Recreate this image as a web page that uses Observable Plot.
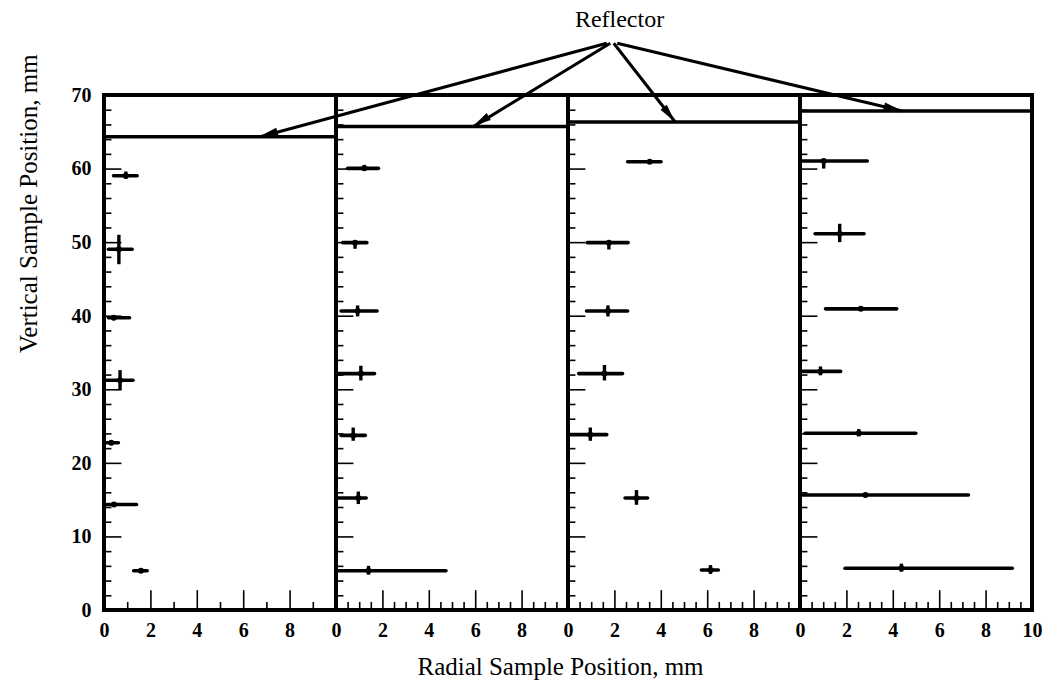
<!DOCTYPE html>
<html>
<head>
<meta charset="utf-8">
<script src="https://cdn.jsdelivr.net/npm/d3@7"></script>
<script src="https://cdn.jsdelivr.net/npm/@observablehq/plot@0.6"></script>
<style>
  html, body { margin: 0; padding: 0; background: #fff; }
  #chart svg { display: block; }
  #chart g[aria-label="x-axis tick label"] text,
  #chart g[aria-label="y-axis tick label"] text { font-weight: bold; font-size: 20px; }
</style>
</head>
<body>
<div id="chart"></div>
<script>
// ---- data ----
const panelIds = [1, 2, 3, 4];
const reflectorY = [64.4, 65.8, 66.4, 67.9];
const arrowTipX = [6.72, 5.92, 4.6, 4.38];          // local radial position of arrow tip on reflector
const arrowStartX = [21.65, 21.8, 21.95, 22.1];     // annotation origin (global x)
const arrowStartY = 77.1;
const reflectorLabel = {text: "Reflector", x: 22.2, y: 80.4};

const pointPanel = [1,1,1,1,1,1,1, 2,2,2,2,2,2,2, 3,3,3,3,3,3,3, 4,4,4,4,4,4,4];
const radial     = [0.92,0.62,0.40,0.67,0.29,0.41,1.57, 1.20,0.80,0.91,1.05,0.72,0.94,1.38, 3.50,1.74,1.70,1.55,0.94,2.93,6.12, 1.00,1.69,2.60,0.86,2.51,2.80,4.35];
const radialLo   = [0.41,0.19,0.19,0.12,0.12,0.12,1.28, 0.50,0.29,0.22,0.07,0.22,0.07,0.07, 2.57,0.83,0.80,0.46,0.10,2.46,5.75, 0.07,0.65,1.10,0.07,0.22,0.07,1.94];
const radialHi   = [1.43,1.21,1.10,1.25,0.62,1.40,1.86, 1.83,1.33,1.77,1.66,1.26,1.30,4.74, 4.01,2.59,2.57,2.35,1.67,3.43,6.48, 2.90,2.76,4.17,1.75,4.99,7.26,9.15];
const vertical   = [59.1,49.1,39.8,31.3,22.8,14.4,5.4, 60.1,50.0,40.7,32.2,23.8,15.3,5.4, 61.0,50.0,40.7,32.2,23.9,15.3,5.5, 61.1,51.2,41.0,32.5,24.1,15.7,5.75];
const verticalLo = [58.6,47.0,39.8,29.9,22.6,14.2,5.1, 59.7,49.1,39.9,31.2,23.0,14.4,4.8, 61.0,49.0,39.9,31.2,23.0,14.3,4.9, 60.0,50.0,41.0,31.9,23.6,15.7,5.2];
const verticalHi = [59.6,51.0,39.8,32.6,23.0,14.6,5.7, 60.5,50.1,41.4,33.2,24.8,16.1,6.0, 61.0,50.0,41.4,33.3,24.8,16.3,6.1, 61.3,52.5,41.0,33.1,24.6,15.7,6.3];

const yTickLabels = [0, 10, 20, 30, 40, 50, 60, 70];
const yInnerTicks = [0,2,4,6,8,10,12,14,16,18,20,22,24,26,28,30,32,34,36,38,40,42,44,46,48,50,52,54,56,58,60,62,64,66,68,70];
const xTickLabels = [0, 2, 4, 6, 8];
const xTicksPanel1 = [1,2,3,4,5,6,7,8,9];
const xTicksOther = [0.5,1,1.5,2,2.5,3,3.5,4,4.5,5,5.5,6,6.5,7,7.5,8,8.5,9,9.5];

// ---- derived tables ----
const offset = p => (p - 1) * 10;
const points = pointPanel.map((p, i) => ({
  x: offset(p) + radial[i], xlo: offset(p) + radialLo[i], xhi: offset(p) + radialHi[i],
  y: vertical[i], ylo: verticalLo[i], yhi: verticalHi[i]
}));
const yTickRows = panelIds.flatMap(p => yInnerTicks.map(v => ({p, v, major: v % 10 === 0})));
const xTickRows = panelIds.flatMap(p => (p === 1 ? xTicksPanel1 : xTicksOther).map(v => ({p, v, major: v % 2 === 0})));
const xAxisTicks = panelIds.flatMap(p => xTickLabels.map(v => offset(p) + v)).concat([40]);
const arrows = panelIds.map((p, i) => ({x1: arrowStartX[i], y1: arrowStartY, x2: offset(p) + arrowTipX[i], y2: reflectorY[i]}));

// filled arrowheads drawn with the plot's own scales
function arrowHeads(index, scales) {
  const g = d3.create("svg:g").attr("aria-label", "arrowheads");
  const headLen = 18, headHalf = 4;
  for (const a of arrows) {
    const x1 = scales.x(a.x1), y1 = scales.y(a.y1), x2 = scales.x(a.x2), y2 = scales.y(a.y2);
    const dx = x2 - x1, dy = y2 - y1, L = Math.hypot(dx, dy);
    const ux = dx / L, uy = dy / L;
    const bx = x2 - ux * headLen, by = y2 - uy * headLen;
    g.append("path")
      .attr("d", `M${x2},${y2}L${bx - uy * headHalf},${by + ux * headHalf}L${bx + uy * headHalf},${by - ux * headHalf}Z`)
      .attr("fill", "#000");
  }
  return g.node();
}

const font = "'Liberation Serif', 'Times New Roman', serif";

const chart = Plot.plot({
  width: 1042,
  height: 687,
  marginLeft: 104,
  marginRight: 10,
  marginTop: 95,
  marginBottom: 77,
  style: {fontFamily: font, background: "#fff", color: "#000"},
  x: {domain: [0, 40], axis: null},
  y: {domain: [0, 70], axis: null},
  marks: [
    // inner y ticks
    Plot.ruleY(yTickRows, {y: "v", x1: d => offset(d.p), x2: d => offset(d.p) + (d.major ? 0.75 : 0.32), stroke: "#000", strokeWidth: 1.6}),
    // inner x ticks
    Plot.ruleX(xTickRows, {x: d => offset(d.p) + d.v, y1: () => 0, y2: d => d.major ? 2.7 : 1.1, stroke: "#000", strokeWidth: 1.6}),
    // panel frames
    Plot.rect(panelIds, {x1: d => offset(d), x2: d => offset(d) + 10, y1: () => 0, y2: () => 70, fill: "none", stroke: "#000", strokeWidth: 4}),
    // reflector lines
    Plot.ruleY(panelIds, {y: (d, i) => reflectorY[i], x1: d => offset(d), x2: d => offset(d) + 10, stroke: "#000", strokeWidth: 3.5}),
    // error bars
    Plot.ruleY(points, {y: "y", x1: "xlo", x2: "xhi", stroke: "#000", strokeWidth: 3.6, strokeLinecap: "round"}),
    Plot.ruleX(points.filter(d => d.yhi > d.ylo), {x: "x", y1: "ylo", y2: "yhi", stroke: "#000", strokeWidth: 3.4}),
    Plot.dot(points, {x: "x", y: "y", r: 3, fill: "#000"}),
    // axes
    Plot.axisY({ticks: yTickLabels, tickSize: 0, tickPadding: 13, fontSize: 20, fontWeight: "bold", label: null}),
    Plot.axisX({ticks: xAxisTicks, tickSize: 0, tickPadding: 12, fontSize: 20, fontWeight: "bold", label: null,
      tickFormat: d => d === 40 ? "10" : String(Math.round(d) % 10)}),
    // axis titles
    Plot.text(["Vertical Sample Position, mm"], {frameAnchor: "left", dx: -76, rotate: -90, fontSize: 25, fill: "#000"}),
    Plot.text(["Radial Sample Position, mm"], {frameAnchor: "bottom", dy: 64, dx: -8, fontSize: 25, fill: "#000"}),
    // reflector annotation
    Plot.text([reflectorLabel], {x: "x", y: "y", text: "text", fontSize: 24, fill: "#000"}),
    Plot.link(arrows, {x1: "x1", y1: "y1", x2: "x2", y2: "y2", stroke: "#000", strokeWidth: 3}),
    arrowHeads
  ]
});
document.getElementById("chart").appendChild(chart);
</script>
</body>
</html>
